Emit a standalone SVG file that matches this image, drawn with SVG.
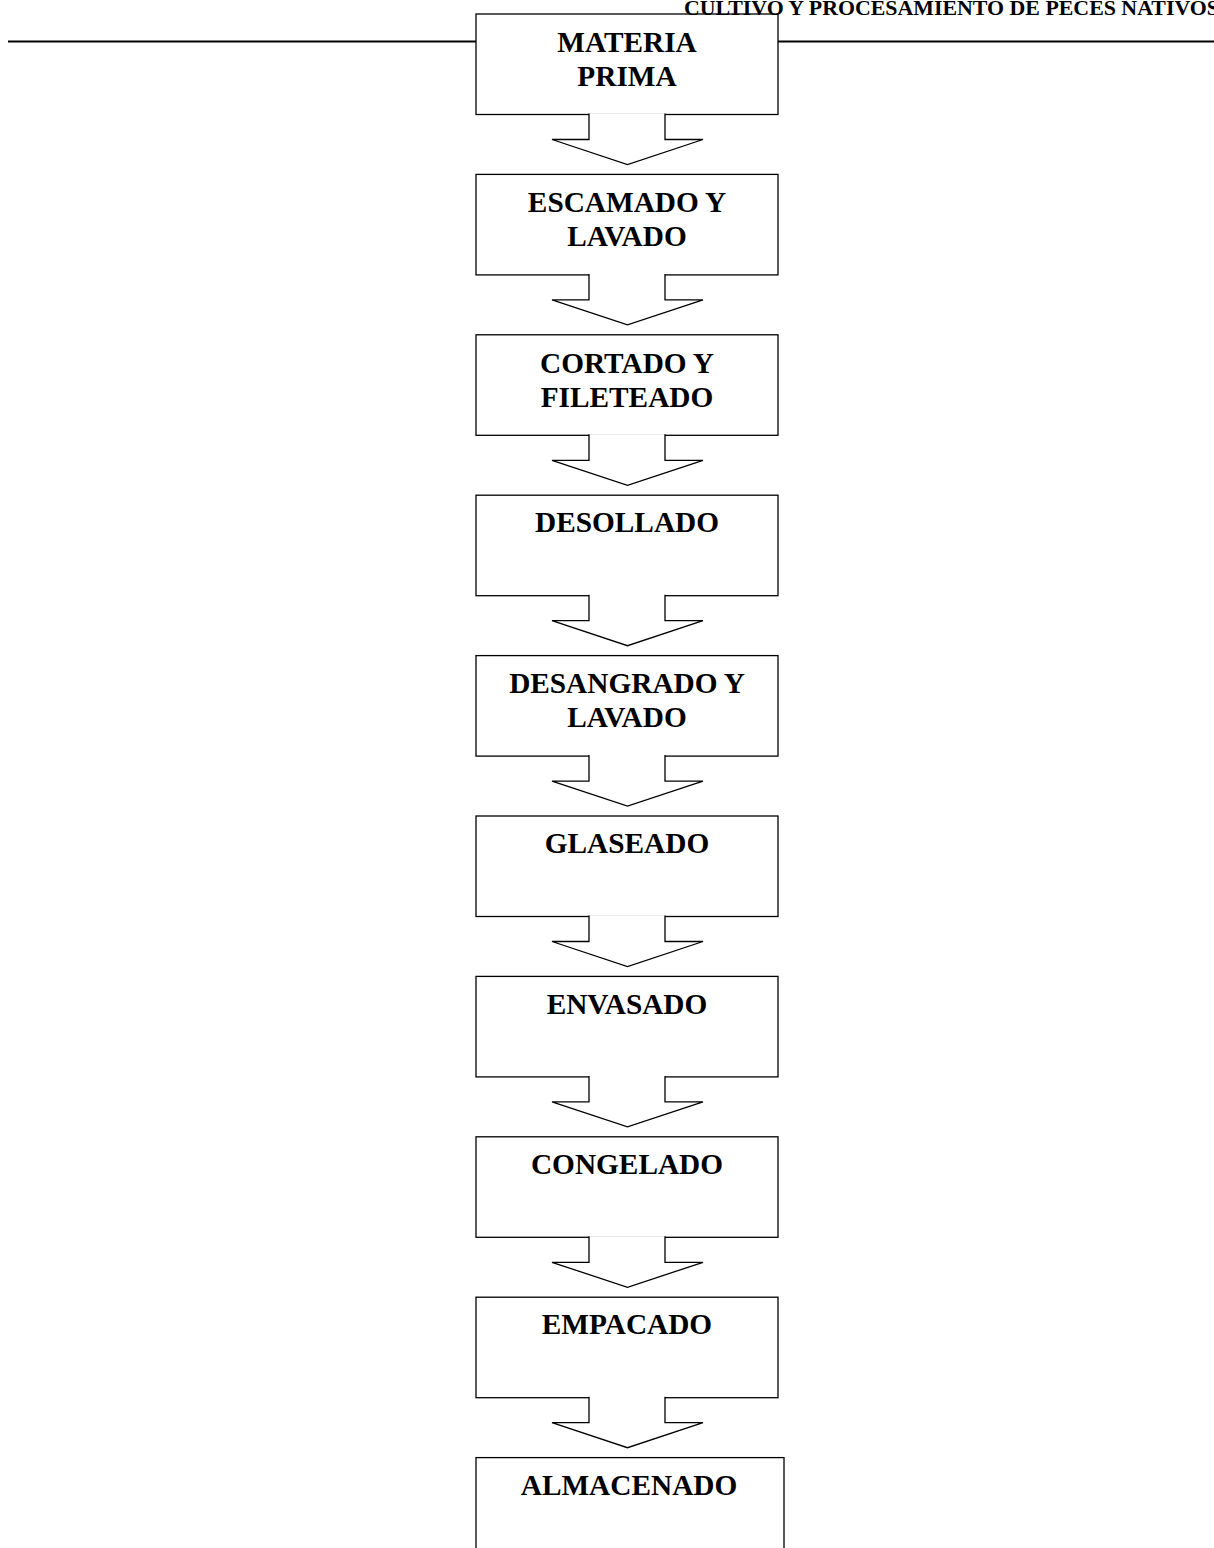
<svg xmlns="http://www.w3.org/2000/svg" width="1214" height="1548" viewBox="0 0 1214 1548">
<style>
.box{fill:#fff;stroke:#000;stroke-width:1.3}
.arr{fill:#fff;stroke:#000;stroke-width:1.3;stroke-linejoin:miter}
.lbl{font-family:"Liberation Serif","Times New Roman",serif;font-weight:bold;font-size:29.3px;text-anchor:middle;fill:#000}
.hdr{font-family:"Liberation Serif","Times New Roman",serif;font-weight:bold;font-size:20px;fill:#000}
</style>
<rect width="1214" height="1548" fill="#fff"/>
<g id="header">
<line x1="8" y1="41.5" x2="1214" y2="41.5" stroke="#000" stroke-width="2"/>
</g>
<g id="n1"><rect class="box" x="476" y="14" width="302" height="100.5"/><text class="lbl" x="627" y="51.7">MATERIA</text><text class="lbl" x="627" y="85.7">PRIMA</text></g>
<g id="n2"><rect class="box" x="476" y="174.4" width="302" height="100.5"/><text class="lbl" x="627" y="212.1">ESCAMADO Y</text><text class="lbl" x="627" y="246.1">LAVADO</text></g>
<g id="n3"><rect class="box" x="476" y="334.8" width="302" height="100.5"/><text class="lbl" x="627" y="372.5">CORTADO Y</text><text class="lbl" x="627" y="406.5">FILETEADO</text></g>
<g id="n4"><rect class="box" x="476" y="495.2" width="302" height="100.5"/><text class="lbl" x="627" y="532.4">DESOLLADO</text></g>
<g id="n5"><rect class="box" x="476" y="655.6" width="302" height="100.5"/><text class="lbl" x="627" y="693.3">DESANGRADO Y</text><text class="lbl" x="627" y="727.3">LAVADO</text></g>
<g id="n6"><rect class="box" x="476" y="816" width="302" height="100.5"/><text class="lbl" x="627" y="853.2">GLASEADO</text></g>
<g id="n7"><rect class="box" x="476" y="976.4" width="302" height="100.5"/><text class="lbl" x="627" y="1013.6">ENVASADO</text></g>
<g id="n8"><rect class="box" x="476" y="1136.8" width="302" height="100.5"/><text class="lbl" x="627" y="1174">CONGELADO</text></g>
<g id="n9"><rect class="box" x="476" y="1297.2" width="302" height="100.5"/><text class="lbl" x="627" y="1334.4">EMPACADO</text></g>
<g id="n10"><rect class="box" x="476" y="1457.6" width="308" height="120"/><text class="lbl" x="629" y="1494.8">ALMACENADO</text></g>
<g id="page-header">
<text class="hdr" x="684" y="15" textLength="535" lengthAdjust="spacingAndGlyphs">CULTIVO Y PROCESAMIENTO DE PECES NATIVOS</text>
</g>
<g id="connectors">
<path class="arr" d="M589,113.5 V139.5 H552 L627.5,164.5 L703,139.5 H665 V113.5"/>
<path class="arr" d="M589,273.9 V299.9 H552 L627.5,324.9 L703,299.9 H665 V273.9"/>
<path class="arr" d="M589,434.3 V460.3 H552 L627.5,485.3 L703,460.3 H665 V434.3"/>
<path class="arr" d="M589,594.7 V620.7 H552 L627.5,645.7 L703,620.7 H665 V594.7"/>
<path class="arr" d="M589,755.1 V781.1 H552 L627.5,806.1 L703,781.1 H665 V755.1"/>
<path class="arr" d="M589,915.5 V941.5 H552 L627.5,966.5 L703,941.5 H665 V915.5"/>
<path class="arr" d="M589,1075.9 V1101.9 H552 L627.5,1126.9 L703,1101.9 H665 V1075.9"/>
<path class="arr" d="M589,1236.3 V1262.3 H552 L627.5,1287.3 L703,1262.3 H665 V1236.3"/>
<path class="arr" d="M589,1396.7 V1422.7 H552 L627.5,1447.7 L703,1422.7 H665 V1396.7"/>
</g>
</svg>
